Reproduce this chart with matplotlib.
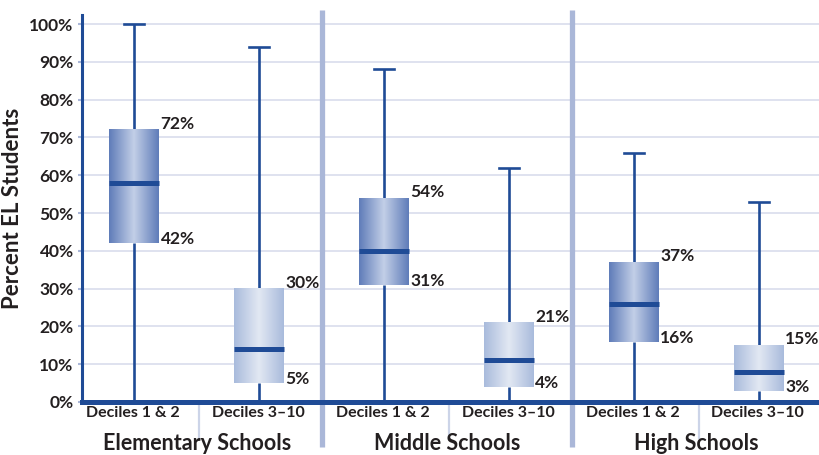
import numpy as np
import matplotlib.pyplot as plt
from matplotlib.colors import LinearSegmentedColormap

plt.rcParams['font.family'] = ['Lato', 'DejaVu Sans']

# data (percent EL students)
groups = ["Elementary Schools", "Middle Schools", "High Schools"]
deciles = ["Deciles 1 & 2", "Deciles 3–10"]
w_low = [0, 0, 0, 0, 0, 0]
q1 = [42, 5, 31, 4, 16, 3]
median = [58, 14, 40, 11, 26, 8]
q3 = [72, 30, 54, 21, 37, 15]
w_high = [100, 94, 88, 62, 66, 53]
yticks = list(range(0, 101, 10))

dark = "#1f4b96"
txt = "#231f20"
grid_c = "#dcdfee"
sep_c = "#aab7d8"
wt = "bold"

cm_dark = LinearSegmentedColormap.from_list("d", ["#5f7cb9", "#c3cfe7", "#5f7cb9"])
cm_light = LinearSegmentedColormap.from_list("l", ["#a9bbdc", "#e2e8f3", "#a9bbdc"])

fig = plt.figure(figsize=(8.19, 4.55), dpi=100)
ax = fig.add_axes([0.1001, 0.1165, 0.8999, 0.8505])

pos = np.arange(6) + 0.5
bw = 0.4
cap = 0.08
grad = np.linspace(0, 1, 200).reshape(1, -1)

for y in yticks[1:]:
    ax.axhline(y, color=grid_c, lw=1.3, zorder=0)

for i, x in enumerate(pos):
    ax.plot([x, x], [w_low[i], q1[i]], color=dark, lw=1.9, zorder=2, solid_capstyle="butt")
    ax.plot([x, x], [q3[i], w_high[i]], color=dark, lw=1.9, zorder=2, solid_capstyle="butt")
    ax.plot([x - cap, x + cap], [w_high[i], w_high[i]], color=dark, lw=1.9, zorder=2)
    cm = cm_dark if i % 2 == 0 else cm_light
    ax.imshow(grad, cmap=cm, aspect="auto", extent=[x - bw / 2, x + bw / 2, q1[i], q3[i]],
              zorder=3, interpolation="bilinear")
    ax.plot([x - bw / 2, x + bw / 2], [median[i], median[i]], color=dark, lw=3.6, zorder=4,
            solid_capstyle="butt")
    ax.text(x + bw / 2 + 0.01, q3[i] + 1.6, f"{q3[i]}%", fontsize=12.5, fontweight=wt,
            color=txt, va="center", ha="left")
    ax.text(x + bw / 2 + 0.01, q1[i] + 1.0, f"{q1[i]}%", fontsize=12.5, fontweight=wt,
            color=txt, va="center", ha="left")
    ax.text(x - 0.01, -2.9, deciles[i % 2], fontsize=11.5, fontweight=wt, color=txt,
            ha="center", va="center")

for g in range(3):
    ax.text(2 * g + 1, -10.9, groups[g], fontsize=15.5, fontweight=wt, color=txt,
            ha="center", va="center")
    ax.plot([2 * g + 1.02] * 2, [-0.9, -9.6], color="#ccd4e8", lw=1.6, clip_on=False, zorder=1)

for xs in [2, 4]:
    ax.plot([xs, xs], [103.8, -11.9], color=sep_c, lw=3.8, clip_on=False, zorder=1,
            solid_capstyle="butt")

ax.set_xlim(0.08, 5.98)
ax.set_ylim(0, 102.4)
ax.set_xticks([])
ax.set_yticks(yticks)
ax.set_yticklabels([f"{v}%" for v in yticks], fontsize=12.5, fontweight=wt, color=txt)
ax.tick_params(axis="y", length=3, width=1.5, color=sep_c, pad=3)

for s in ["top", "right"]:
    ax.spines[s].set_visible(False)
ax.spines["left"].set_color(dark)
ax.spines["left"].set_linewidth(2.2)
ax.spines["bottom"].set_color(dark)
ax.spines["bottom"].set_linewidth(3.6)
ax.spines["left"].set_zorder(5)
ax.spines["bottom"].set_zorder(5)

ax.set_ylabel("Percent EL Students", fontsize=16, fontweight=wt, color=txt)
ax.yaxis.set_label_coords(-0.08, 0.5)

fig.savefig("out.png", dpi=100)
